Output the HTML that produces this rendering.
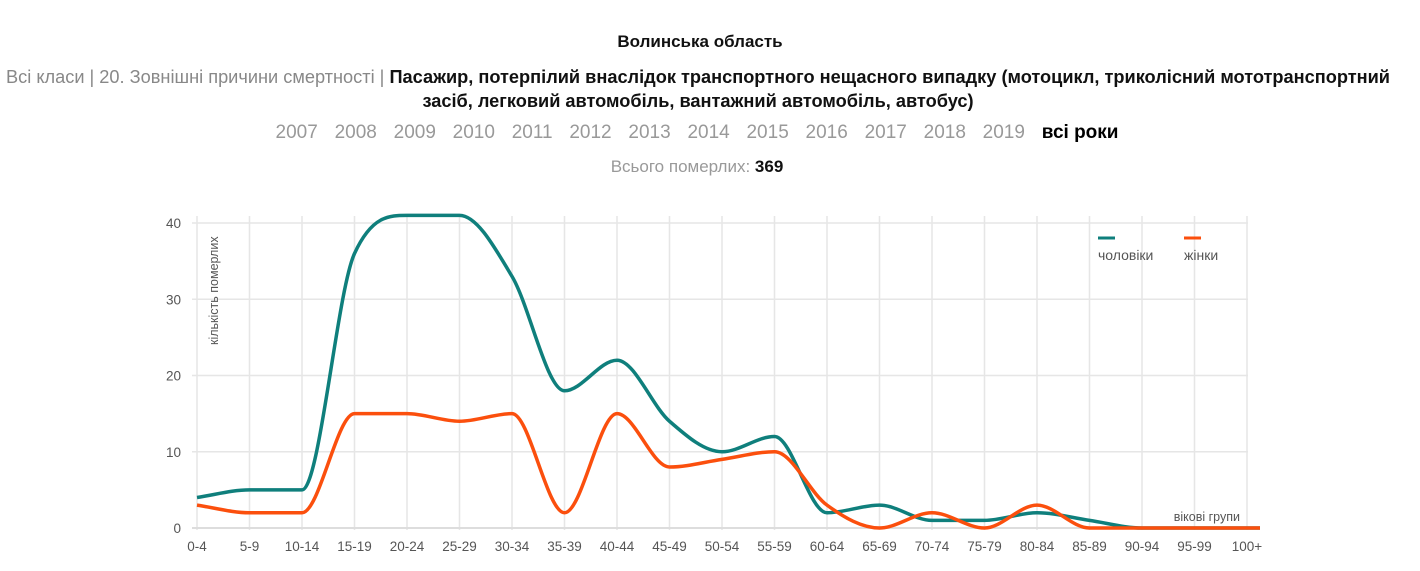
<!DOCTYPE html>
<html><head><meta charset="utf-8"><style>
body{margin:0;width:1420px;height:571px;background:#fff;font-family:"Liberation Sans",sans-serif;overflow:hidden;position:relative}
.t{position:absolute;left:0;width:1400px;text-align:center;white-space:nowrap}
</style></head><body>
<div class="t" style="top:32px;font-size:17px;font-weight:bold;color:#111">Волинська область</div>
<div class="t" style="top:65px;font-size:18.2px;line-height:24px;color:#888;width:1396px">Всі класи | 20. Зовнішні причини смертності | <b style="color:#111">Пасажир, потерпілий внаслідок транспортного нещасного випадку (мотоцикл, триколісний мототранспортний</b><br><b style="color:#111">засіб, легковий автомобіль, вантажний автомобіль, автобус)</b></div>
<div class="t" style="top:122px;font-size:19px;color:#999;word-spacing:11.5px;width:1394px">2007 2008 2009 2010 2011 2012 2013 2014 2015 2016 2017 2018 2019 <b style="color:#000;word-spacing:0">всі роки</b></div>
<div class="t" style="top:157px;font-size:17px;color:#999;width:1394px">Всього померлих: <b style="color:#111">369</b></div>
<svg id="c" width="1420" height="571" style="position:absolute;left:0;top:0"></svg>
<script>
const m=[4,5,5,36,41,41,33,18,22,14,10,12,2,3,1,1,2,1,0,0,0];
const w=[3,2,2,15,15,14,15,2,15,8,9,10,3,0,2,0,3,0,0,0,0];
const L=["0-4","5-9","10-14","15-19","20-24","25-29","30-34","35-39","40-44","45-49","50-54","55-59","60-64","65-69","70-74","75-79","80-84","85-89","90-94","95-99","100+"];
const X=i=>197+i*52.5, Y=v=>528-v*7.625;
let s='';
for(let v=0;v<=40;v+=10){s+=`<line x1="192" x2="1248" y1="${Y(v)}" y2="${Y(v)}" stroke="#e6e6e6" stroke-width="1.5"/>`;
s+=`<text x="181" y="${Y(v)+5}" font-size="13.5" fill="#555" text-anchor="end">${v}</text>`}
for(let i=0;i<21;i++){s+=`<line x1="${X(i)}" x2="${X(i)}" y1="216" y2="530" stroke="#e6e6e6" stroke-width="1.5"/>`;
s+=`<text x="${X(i)}" y="551" font-size="13.5" fill="#555" text-anchor="middle">${L[i]}</text>`}
s+=`<line x1="192" x2="1260" y1="528" y2="528" stroke="#ddd" stroke-width="2"/>`;
function path(d){const n=d.length,x=d.map((_,i)=>X(i)),y=d.map(Y);const dl=[],t=[];
for(let i=0;i<n-1;i++)dl.push((y[i+1]-y[i])/(x[i+1]-x[i]));
t[0]=dl[0];t[n-1]=dl[n-2];
for(let i=1;i<n-1;i++){t[i]=(dl[i-1]*dl[i]<=0)?0:(dl[i-1]+dl[i])/2;}
for(let i=0;i<n-1;i++){if(dl[i]==0){t[i]=0;t[i+1]=0;continue;}const a=t[i]/dl[i],b=t[i+1]/dl[i],h=a*a+b*b;if(h>9){const k=3/Math.sqrt(h);t[i]=k*a*dl[i];t[i+1]=k*b*dl[i];}}
let p=`M${x[0]},${y[0]}`;for(let i=0;i<n-1;i++){const h=(x[i+1]-x[i])/3;p+=`C${x[i]+h},${y[i]+t[i]*h} ${x[i+1]-h},${y[i+1]-t[i+1]*h} ${x[i+1]},${y[i+1]}`}
return p+`L1260,${y[n-1]}`;}
s+=`<path d="${path(m)}" fill="none" stroke="#0f7f7c" stroke-width="3.5"/>`;
s+=`<path d="${path(w)}" fill="none" stroke="#fb4f0d" stroke-width="3.5"/>`;
s+=`<text transform="translate(218,345) rotate(-90)" font-size="12.5" fill="#555">кількість померлих</text>`;
s+=`<text x="1240" y="521" font-size="12.5" fill="#555" text-anchor="end">вікові групи</text>`;
s+=`<line x1="1098" x2="1115" y1="238" y2="238" stroke="#0f7f7c" stroke-width="3"/><text x="1098" y="260" font-size="14" fill="#555">чоловіки</text>`;
s+=`<line x1="1184" x2="1201" y1="238" y2="238" stroke="#fb4f0d" stroke-width="3"/><text x="1184" y="260" font-size="14" fill="#555">жінки</text>`;
document.getElementById('c').innerHTML=s;
</script>
</body></html>
